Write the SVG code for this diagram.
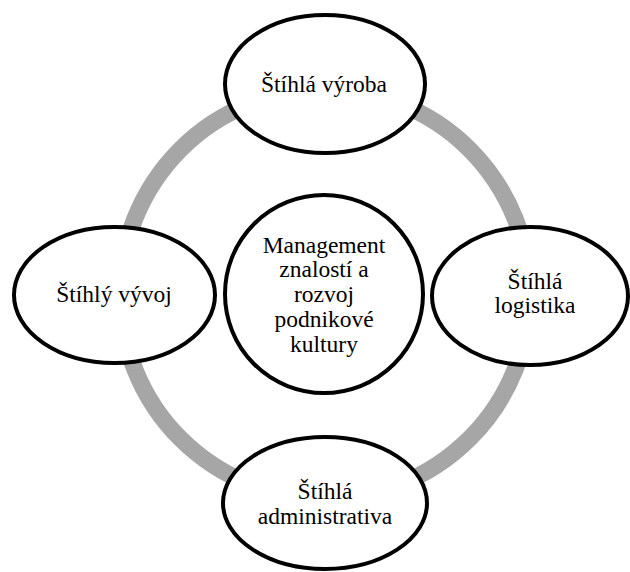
<svg xmlns="http://www.w3.org/2000/svg" width="630" height="572" viewBox="0 0 630 572">
<style>
.n{fill:#fff;stroke:#000;stroke-width:4}
.t{font-family:'Liberation Serif',Tinos,'Times New Roman','DejaVu Serif',serif;font-size:23.5px;fill:#000;text-anchor:middle}
.ring{fill:none;stroke:#a6a6a6;stroke-width:17}
</style>
<rect width="630" height="572" fill="#fff"/>
<g id="connectors">
<circle class="ring" cx="325" cy="294" r="204.5"/>
</g>
<g id="center">
<circle class="n" cx="324" cy="294" r="99"/>
<text class="t" x="324" y="253">Management</text>
<text class="t" x="324" y="277">znalostí a</text>
<text class="t" x="324" y="302">rozvoj</text>
<text class="t" x="324" y="327">podnikové</text>
<text class="t" x="324" y="352">kultury</text>
</g>
<g id="top">
<ellipse class="n" cx="325" cy="84" rx="100" ry="69"/>
<text class="t" x="324" y="92">Štíhlá výroba</text>
</g>
<g id="left">
<ellipse class="n" cx="114.5" cy="295" rx="100.5" ry="68"/>
<text class="t" x="114" y="302">Štíhlý vývoj</text>
</g>
<g id="right">
<ellipse class="n" cx="530" cy="296" rx="98" ry="69"/>
<text class="t" x="535" y="289">Štíhlá</text>
<text class="t" x="535" y="313">logistika</text>
</g>
<g id="bottom">
<ellipse class="n" cx="325" cy="503" rx="102" ry="66"/>
<text class="t" x="325" y="499">Štíhlá</text>
<text class="t" x="325" y="524">administrativa</text>
</g>
</svg>
